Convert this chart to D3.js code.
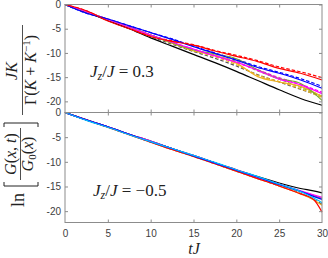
<!DOCTYPE html>
<html>
<head>
<meta charset="utf-8">
<script src="https://cdn.jsdelivr.net/npm/d3@7"></script>
<style>
  body { margin: 0; background: #fff; }
  .axis text { font-family: "Liberation Sans", Arial, sans-serif; font-size: 10px; fill: #404040; }
  .axis line { stroke: #8c8c8c; }
  .math { font-family: "Liberation Serif", "DejaVu Serif", serif; fill: #222; }
</style>
</head>
<body>
<svg id="chart" width="328" height="258"></svg>
<script>
// time grids
var tTop = [0, 2.5, 5, 7.5, 10, 12.5, 15, 17.5, 20, 22.5, 25, 27.5, 30];
var tBot = [0, 2.5, 5, 7.5, 10, 12.5, 15, 17.5, 20, 22.5, 25, 27.5, 29, 30];

// Jz/J = 0.3 (top panel), solid
var topBlack   = [0, -1.6, -3.3, -5.0, -6.9, -8.6, -10.3, -12.0, -13.8, -15.7, -17.6, -19.4, -20.8];
var topRed     = [0, -1.3, -3.4, -5.0, -6.6, -7.6, -8.4, -9.6, -10.7, -11.8, -13.2, -14.2, -15.6];
var topBlue    = [0, -1.8, -3.0, -4.4, -5.8, -7.2, -8.7, -10.1, -11.5, -13.0, -14.2, -15.6, -17.3];
var topMagenta = [0, -1.5, -3.1, -4.7, -6.3, -7.8, -9.2, -10.6, -11.9, -13.6, -15.4, -16.6, -18.4];
var topGreen   = [0, -1.5, -3.1, -4.7, -6.3, -7.9, -9.4, -10.2, -11.2, -13.5, -15.3, -16.3, -19.8];
var topOrange  = [0, -1.5, -3.1, -4.7, -6.3, -8.0, -9.6, -10.5, -12.1, -14.9, -16.0, -16.9, -19.0];
// top panel, dashed
var topRedD     = [0, -1.3, -3.3, -4.9, -6.5, -7.5, -8.3, -9.5, -10.5, -11.6, -12.9, -13.9, -15.1];
var topBlueD    = [0, -1.8, -3.0, -4.4, -5.8, -7.1, -8.6, -10.0, -11.3, -12.8, -14.0, -15.3, -16.9];
var topGreyD    = [0, -1.5, -3.2, -4.9, -6.6, -8.2, -9.7, -11.1, -12.7, -14.5, -16.0, -17.5, -19.0];
var topMagentaD = [0, -1.5, -3.1, -4.7, -6.3, -7.8, -9.2, -10.6, -12.0, -13.5, -15.1, -16.5, -18.1];
var topGreenD   = [0, -1.5, -3.1, -4.7, -6.3, -7.9, -9.3, -10.5, -11.8, -13.7, -15.4, -17.1, -18.9];
var topOrangeD  = [0, -1.5, -3.1, -4.7, -6.3, -7.9, -9.5, -10.8, -12.4, -14.6, -15.9, -17.4, -19.2];

// Jz/J = -0.5 (bottom panel)
var botBlack   = [0, -1.5, -2.9, -4.4, -5.8, -7.3, -8.7, -10.2, -11.6, -13.0, -14.3, -15.4, -15.9, -16.3];
var botMagenta = [0, -1.5, -2.9, -4.4, -5.8, -7.3, -8.7, -10.2, -11.6, -13.1, -14.5, -15.9, -16.7, -17.2];
var botGreen   = [0, -1.5, -2.9, -4.4, -5.9, -7.3, -8.8, -10.2, -11.7, -13.1, -14.6, -16.0, -16.8, -17.4];
var botBlue    = [0, -1.5, -2.9, -4.4, -5.9, -7.3, -8.8, -10.2, -11.7, -13.1, -14.6, -16.0, -17.0, -17.6];
var botCyan    = [0, -1.6, -3.0, -4.5, -5.9, -7.3, -8.7, -10.1, -11.6, -13.0, -14.5, -16.0, -17.3, -18.3];
var botOrange  = [0, -1.5, -3.0, -4.5, -6.0, -7.5, -8.9, -10.4, -11.9, -13.4, -14.9, -16.5, -17.7, -18.8];
var botRed     = [0, -1.5, -3.0, -4.5, -6.0, -7.5, -8.9, -10.4, -11.9, -13.4, -14.9, -16.5, -17.6, -20.2];
var botGreyD   = [0, -1.5, -3.0, -4.5, -6.0, -7.5, -8.9, -10.4, -11.9, -13.4, -14.9, -16.4, -17.6, -18.6];

var xTicks = [0, 5, 10, 15, 20, 25, 30];
var yTicks = [0, -5, -10, -15, -20];

var svg = d3.select("svg"),
  left = 65, right = 322;

var x = d3.scaleLinear().domain([0, 30]).range([left, right]);

function drawPanel(top, bottom, t, series, showX) {
  var y = d3.scaleLinear().domain([-22.3, 0]).range([bottom, top]);
  var g = svg.append("g");

  var line = d3.line()
    .x(function (d, i) { return x(t[i]); })
    .y(function (d) { return y(d); })
    .curve(d3.curveMonotoneX);

  g.selectAll(".ser")
    .data(series)
    .enter()
    .append("path")
    .attr("fill", "none")
    .attr("stroke", function (d) { return d.color; })
    .attr("stroke-width", 1.2)
    .attr("stroke-dasharray", function (d) { return d.dash ? "3.5,2" : null; })
    .attr("d", function (d) { return line(d.values); });

  // axes with inward ticks
  g.append("g").attr("class", "axis")
    .attr("transform", "translate(" + left + ",0)")
    .call(d3.axisLeft(y).tickValues(yTicks).tickSize(-3).tickPadding(4)
      .tickFormat(function (d) { return d === 0 ? "0" : "-" + Math.abs(d); }))
    .select(".domain").remove();
  g.append("g").attr("class", "axis")
    .attr("transform", "translate(" + right + ",0)")
    .call(d3.axisRight(y).tickValues(yTicks).tickSize(-3).tickFormat(""))
    .select(".domain").remove();
  g.append("g").attr("class", "axis")
    .attr("transform", "translate(0," + top + ")")
    .call(d3.axisTop(x).tickValues(xTicks.slice(1, 6)).tickSize(-3).tickFormat(""))
    .select(".domain").remove();
  var xb = g.append("g").attr("class", "axis")
    .attr("transform", "translate(0," + bottom + ")")
    .call(d3.axisBottom(x).tickValues(xTicks).tickSize(-3).tickPadding(7)
      .tickFormat(showX ? d3.format("d") : ""));
  xb.select(".domain").remove();
  xb.selectAll(".tick line").filter(function (d) { return d === 0 || d === 30; }).remove();

  g.append("rect")
    .attr("x", left).attr("y", top)
    .attr("width", right - left).attr("height", bottom - top)
    .attr("fill", "none").attr("stroke", "#8c8c8c").attr("stroke-width", 1);
  return y;
}

drawPanel(4.5, 112.5, tTop, [
  { values: topGreyD, color: "#555555", dash: true },
  { values: topOrangeD, color: "#edb120", dash: true },
  { values: topGreenD, color: "#77ac30", dash: true },
  { values: topMagentaD, color: "#ff00ff", dash: true },
  { values: topBlueD, color: "#0000ff", dash: true },
  { values: topRedD, color: "#ff0000", dash: true },
  { values: topBlack, color: "#000000" },
  { values: topOrange, color: "#edb120" },
  { values: topGreen, color: "#77ac30" },
  { values: topMagenta, color: "#ff00ff" },
  { values: topBlue, color: "#0000ff" },
  { values: topRed, color: "#ff0000" }
], false);

drawPanel(112.5, 222.5, tBot, [
  { values: botGreyD, color: "#555555", dash: true },
  { values: botOrange, color: "#edb120" },
  { values: botGreen, color: "#77ac30" },
  { values: botRed, color: "#ff0000" },
  { values: botBlack, color: "#000000" },
  { values: botMagenta, color: "#ff00ff" },
  { values: botBlue, color: "#0000ff" },
  { values: botCyan, color: "#00bfff" }
], true);

// panel annotations
function jzLabel(px, py, val) {
  var t = svg.append("text").attr("class", "math").attr("x", px).attr("y", py).attr("font-size", 17);
  t.append("tspan").attr("font-style", "italic").text("J");
  t.append("tspan").attr("font-style", "italic").attr("font-size", 12).attr("dy", 3).text("z");
  t.append("tspan").attr("dy", -3).text("/");
  t.append("tspan").attr("font-style", "italic").text("J");
  t.append("tspan").text(" = " + val);
}
jzLabel(90, 77, "0.3");
jzLabel(93, 196, "\u22120.5");

// x label
svg.append("text").attr("class", "math")
  .attr("x", 194).attr("y", 254).attr("text-anchor", "middle")
  .attr("font-size", 16).attr("font-style", "italic").text("tJ");

// y label (rotated)
var yl = svg.append("g").attr("transform", "translate(0,258) rotate(-90)");
yl.append("text").attr("class", "math").attr("x", 58).attr("y", 24)
  .attr("text-anchor", "middle").attr("font-size", 18).text("ln");
yl.append("path").attr("d", "M76,4H72V38H76").attr("fill", "none").attr("stroke", "#222").attr("stroke-width", 1);
yl.append("path").attr("d", "M131,4H135V38H131").attr("fill", "none").attr("stroke", "#222").attr("stroke-width", 1);

var num1 = yl.append("text").attr("class", "math").attr("x", 104).attr("y", 16)
  .attr("text-anchor", "middle").attr("font-size", 16);
num1.append("tspan").attr("font-style", "italic").text("G");
num1.append("tspan").text("(");
num1.append("tspan").attr("font-style", "italic").text("x");
num1.append("tspan").text(", ");
num1.append("tspan").attr("font-style", "italic").text("t");
num1.append("tspan").text(")");
yl.append("line").attr("x1", 78).attr("x2", 130).attr("y1", 20.5).attr("y2", 20.5)
  .attr("stroke", "#222").attr("stroke-width", 0.8);
var den1 = yl.append("text").attr("class", "math").attr("x", 104).attr("y", 33)
  .attr("text-anchor", "middle").attr("font-size", 16);
den1.append("tspan").attr("font-style", "italic").text("G");
den1.append("tspan").attr("font-size", 11).attr("dy", 3).text("0");
den1.append("tspan").attr("dy", -3).text("(");
den1.append("tspan").attr("font-style", "italic").text("x");
den1.append("tspan").text(")");

yl.append("text").attr("class", "math").attr("x", 187).attr("y", 17)
  .attr("text-anchor", "middle").attr("font-size", 16).attr("font-style", "italic").text("JK");
yl.append("line").attr("x1", 143).attr("x2", 233).attr("y1", 22.5).attr("y2", 22.5)
  .attr("stroke", "#222").attr("stroke-width", 0.8);
var den2 = yl.append("text").attr("class", "math").attr("x", 188).attr("y", 36)
  .attr("text-anchor", "middle").attr("font-size", 16);
den2.append("tspan").text("\u0393(");
den2.append("tspan").attr("font-style", "italic").text("K");
den2.append("tspan").text(" + ");
den2.append("tspan").attr("font-style", "italic").text("K");
den2.append("tspan").attr("font-size", 11).attr("dy", -6).text("\u22121");
den2.append("tspan").attr("dy", 6).text(")");
</script>
</body>
</html>
